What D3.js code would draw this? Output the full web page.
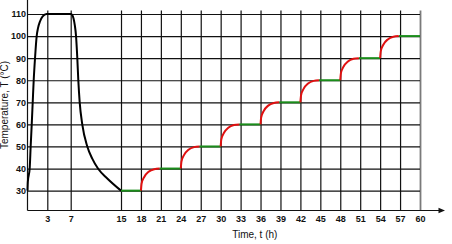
<!DOCTYPE html>
<html><head><meta charset="utf-8">
<script src="https://cdn.jsdelivr.net/npm/d3@7"></script>
<style>
html,body{margin:0;padding:0;background:#fff;}
svg{display:block;}
text{font-family:"Liberation Sans",Arial,sans-serif;}
</style></head>
<body>
<svg id="chart" width="452" height="244"></svg>
<script>
// ---- data ----
const xTicks = [3, 7, 15, 18, 21, 24, 27, 30, 33, 36, 39, 42, 45, 48, 51, 54, 57, 60];
const yTicks = [30, 40, 50, 60, 70, 80, 90, 100, 110];
// heating / soak / cooling (black)
const coolT = [0, 0.05, 0.33, 0.48, 0.64, 0.79, 0.94, 1.14, 1.39, 1.59, 1.89, 2.3, 2.9, 3, 7, 7.2, 7.45, 7.65, 7.85, 8.05, 8.21, 8.43, 8.84, 9.64, 10.43, 11.34, 12.82, 15];
const coolV = [30, 34, 40, 50, 60, 70, 80, 90, 100, 103.6, 106.6, 108.9, 110, 110, 110, 109.7, 108, 105, 100, 90, 80, 70, 60, 50, 44.5, 40, 35.5, 30];
// heating steps (red)
const stepArcs = [
  [[18,30],[18.1,33.2],[18.5,36.2],[19.15,38.5],[20,39.7],[20.8,40]],
  [[24,40],[24.1,43.2],[24.5,46.2],[25.15,48.5],[26,49.7],[26.8,50]],
  [[30,50],[30.1,53.2],[30.5,56.2],[31.15,58.5],[32,59.7],[32.8,60]],
  [[36,60],[36.1,63.2],[36.5,66.2],[37.15,68.5],[38,69.7],[38.8,70]],
  [[42,70],[42.1,73.2],[42.5,76.2],[43.15,78.5],[44,79.7],[44.8,80]],
  [[48,80],[48.1,83.2],[48.5,86.2],[49.15,88.5],[50,89.7],[50.8,90]],
  [[54,90],[54.1,93.2],[54.5,96.2],[55.15,98.5],[56,99.7],[56.8,100]]
];
// holding steps (green): start, end, temperature
const holdStart = [15, 20.8, 26.8, 32.8, 38.8, 44.8, 50.8, 56.8];
const holdEnd   = [18, 24, 30, 36, 42, 48, 54, 60];
const holdTemp  = [30, 40, 50, 60, 70, 80, 90, 100];

// ---- layout ----
const svg = d3.select("#chart");
const x = d3.scaleLinear().domain([0, 3, 7, 15, 60]).range([27.5, 47.3, 70.7, 121, 420]);
const y = d3.scaleLinear().domain([21, 110]).range([210.5, 14]);
const gridTop = 10.5;
const x0 = x(0), x1 = x(60), yBase = y(21);

// vertical grid + x labels
const gx = svg.append("g").attr("transform", `translate(0,${yBase})`)
  .call(d3.axisBottom(x).tickValues(xTicks).tickSizeInner(-(yBase - gridTop)).tickSizeOuter(0).tickPadding(5.6));
gx.select(".domain").remove();
gx.selectAll(".tick line").attr("stroke", d => d === 60 ? "#7a7a7a" : "#111").attr("stroke-width", d => d === 60 ? 1.8 : 1.2);
gx.selectAll(".tick text").attr("font-size", 9).attr("font-weight", "bold").attr("fill", "#111")
  .attr("font-family", "'Liberation Sans',Arial,sans-serif");

// horizontal grid + y labels
const gy = svg.append("g").attr("transform", `translate(${x0},0)`)
  .call(d3.axisLeft(y).tickValues(yTicks).tickSizeInner(-(x1 - x0)).tickSizeOuter(0).tickPadding(1.5));
gy.select(".domain").remove();
gy.selectAll(".tick line").attr("stroke", "#111").attr("stroke-width", 1.2);
gy.selectAll(".tick text").attr("font-size", 9).attr("font-weight", "bold").attr("fill", "#111")
  .attr("font-family", "'Liberation Sans',Arial,sans-serif");

// axes lines
svg.append("line").attr("x1", x0).attr("x2", 439).attr("y1", yBase).attr("y2", yBase).attr("stroke", "#111").attr("stroke-width", 1.2);
svg.append("path").attr("d", `M445,${yBase} L438.5,${yBase - 2.8} L438.5,${yBase + 2.8} Z`).attr("fill", "#111");
svg.append("line").attr("x1", x0).attr("x2", x0).attr("y1", yBase).attr("y2", -5).attr("stroke", "#111").attr("stroke-width", 1.2);

const line = d3.line().x(d => x(d[0])).y(d => y(d[1])).curve(d3.curveMonotoneX);

// black curve
svg.append("path").datum(coolT.map((t, i) => [t, coolV[i]]))
  .attr("d", line).attr("fill", "none").attr("stroke", "#000").attr("stroke-width", 2);

// green holds
svg.selectAll(".hold").data(holdStart).enter().append("line")
  .attr("x1", (d, i) => x(holdStart[i])).attr("x2", (d, i) => x(holdEnd[i]))
  .attr("y1", (d, i) => y(holdTemp[i])).attr("y2", (d, i) => y(holdTemp[i]))
  .attr("stroke", "#1a8c1a").attr("stroke-width", 2);

// red arcs
svg.selectAll(".arc").data(stepArcs).enter().append("path")
  .attr("d", line).attr("fill", "none").attr("stroke", "#e01010").attr("stroke-width", 2);

// axis titles
svg.append("text").attr("x", 254.8).attr("y", 237.5).attr("text-anchor", "middle")
  .attr("font-size", 10).attr("fill", "#111").text("Time, t (h)");
svg.append("text").attr("transform", "translate(8,105) rotate(-90)").attr("text-anchor", "middle")
  .attr("font-size", 10).attr("fill", "#111").text("Temperature, T (°C)");
</script>
</body></html>
